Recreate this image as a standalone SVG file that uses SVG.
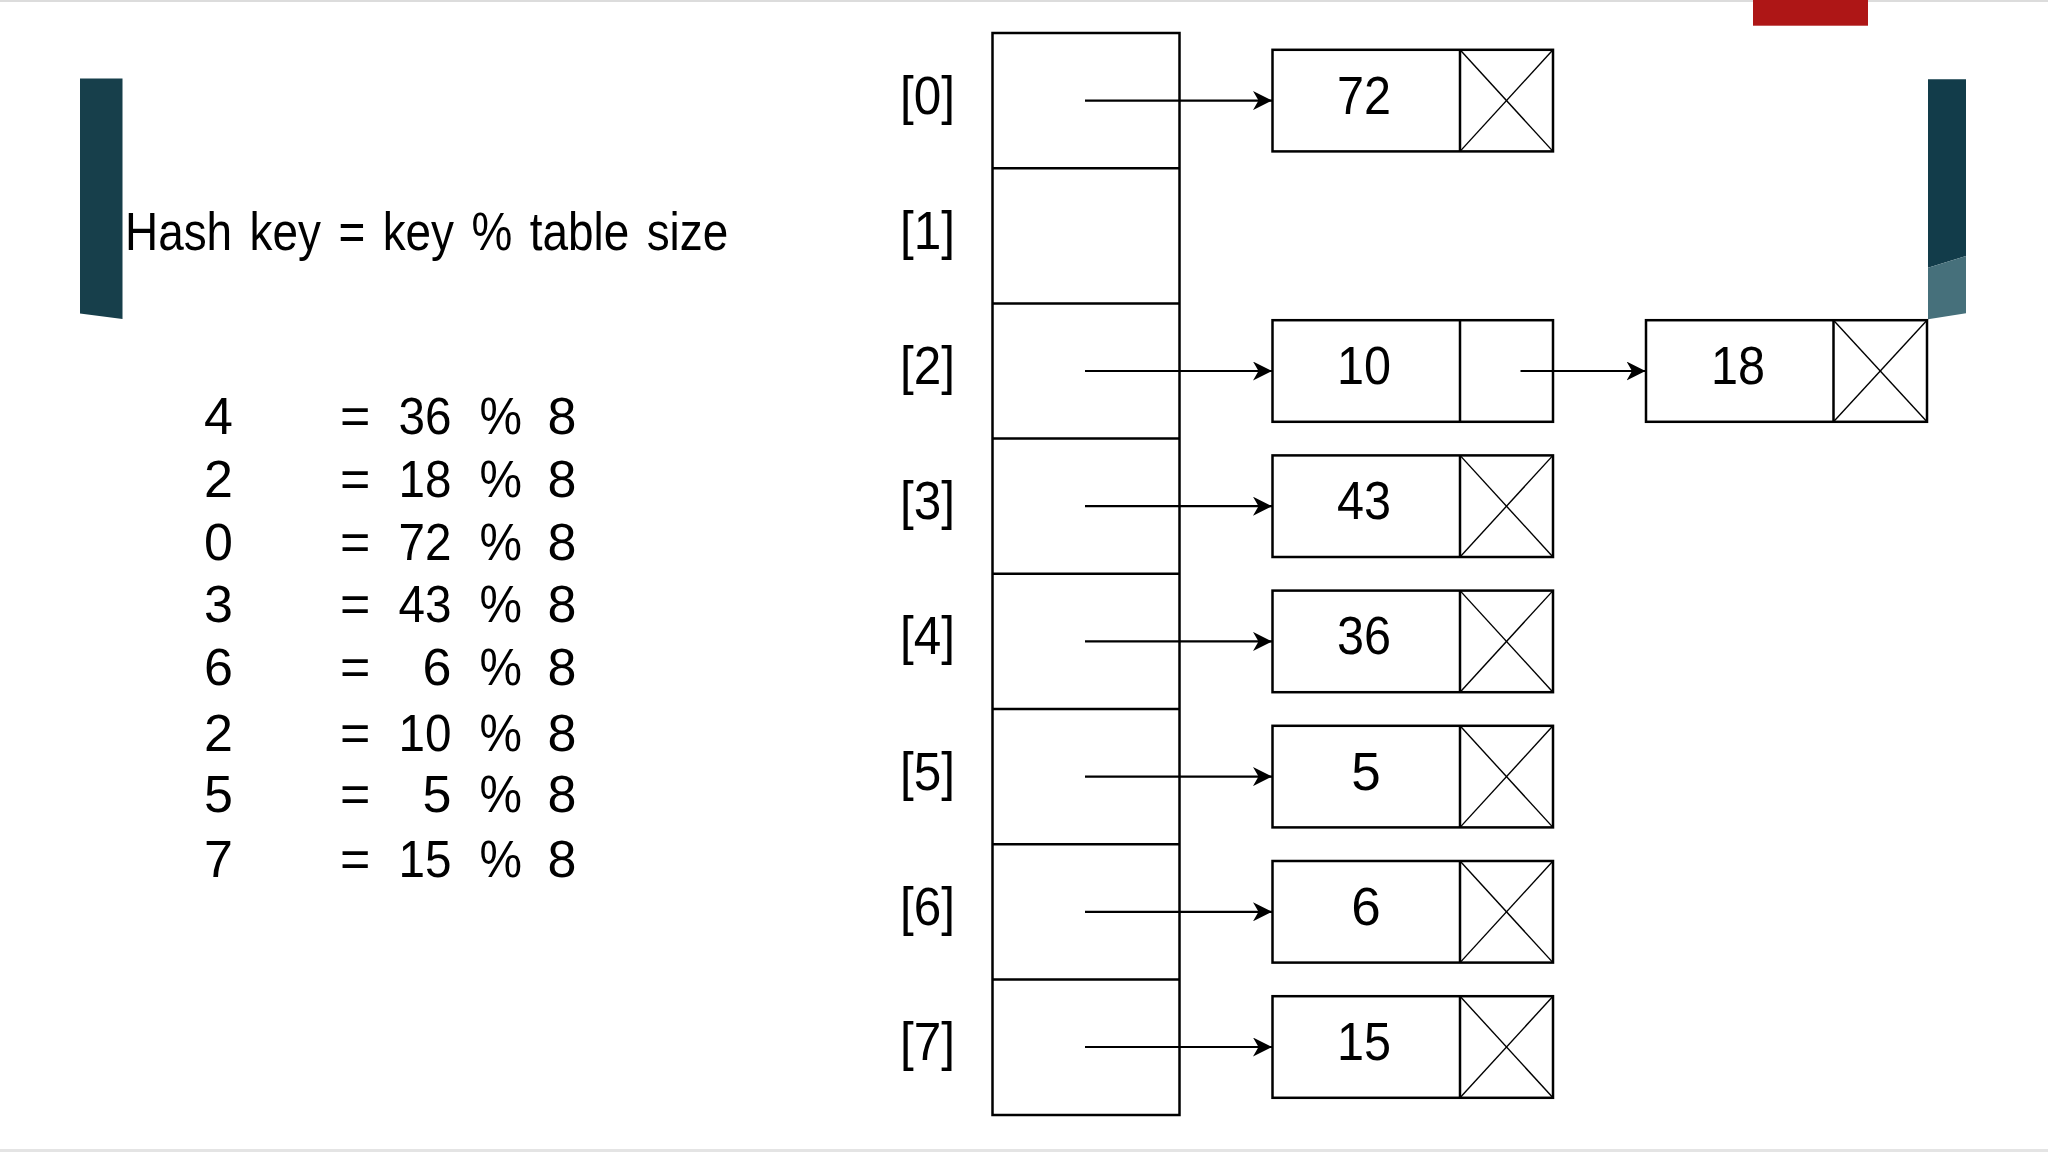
<svg xmlns="http://www.w3.org/2000/svg" width="2048" height="1152" viewBox="0 0 2048 1152">
<style>
  text { font-family: "Liberation Sans", Arial, sans-serif; fill: #000; }
  .eq { font-size: 52px; }
  .idx { font-size: 53px; }
  .val { font-size: 53px; text-anchor: middle; }
  .cell { fill: #fff; stroke: #000; stroke-width: 2.5; }
  .div { stroke: #000; stroke-width: 2.5; }
  .x { stroke: #000; stroke-width: 1.4; }
  .conn { stroke: #000; stroke-width: 2.2; fill: none; marker-end: url(#arr); }
</style>
<defs>
  <marker id="arr" markerUnits="userSpaceOnUse" markerWidth="19" markerHeight="19" viewBox="0 0 19 19" refX="19" refY="9.5" orient="auto">
    <path d="M0,0 L19,9.5 L0,19 L5.5,9.5 Z" fill="#000"/>
  </marker>
</defs>
<rect x="0" y="0" width="2048" height="1152" fill="#fff"/>
<rect x="0" y="0" width="2048" height="2" fill="#dcdcdc"/>
<rect x="0" y="1149" width="2048" height="3" fill="#e4e4e4"/>
<g id="decor">
  <rect x="1753" y="0" width="115" height="25.7" fill="#ae1616"/>
  <polygon points="80,78.4 122.5,78.4 122.5,319 80,313.5" fill="#173f4b"/>
  <polygon points="1928,79.3 1966,79.3 1966,256 1928,267.7" fill="#123c4a"/>
  <polygon points="1928,267.7 1966,256 1966,313.3 1928,319.3" fill="#46707b"/>
</g>
<g id="formula">
  <text transform="translate(125,250) scale(0.85,1)" x="0" y="0" font-size="54" word-spacing="5.5">Hash key = key % table size</text>
</g>
<g id="calc" class="eq">
  <text x="204" y="434">4</text><text x="340" y="434">=</text><text x="451.5" y="434" text-anchor="end" textLength="53" lengthAdjust="spacingAndGlyphs">36</text><text x="479.5" y="434" textLength="42.5" lengthAdjust="spacingAndGlyphs">%</text><text x="547.5" y="434">8</text>
  <text x="204" y="496.7">2</text><text x="340" y="496.7">=</text><text x="451.5" y="496.7" text-anchor="end" textLength="53" lengthAdjust="spacingAndGlyphs">18</text><text x="479.5" y="496.7" textLength="42.5" lengthAdjust="spacingAndGlyphs">%</text><text x="547.5" y="496.7">8</text>
  <text x="204" y="560">0</text><text x="340" y="560">=</text><text x="451.5" y="560" text-anchor="end" textLength="53" lengthAdjust="spacingAndGlyphs">72</text><text x="479.5" y="560" textLength="42.5" lengthAdjust="spacingAndGlyphs">%</text><text x="547.5" y="560">8</text>
  <text x="204" y="622">3</text><text x="340" y="622">=</text><text x="451.5" y="622" text-anchor="end" textLength="53" lengthAdjust="spacingAndGlyphs">43</text><text x="479.5" y="622" textLength="42.5" lengthAdjust="spacingAndGlyphs">%</text><text x="547.5" y="622">8</text>
  <text x="204" y="685">6</text><text x="340" y="685">=</text><text x="451.5" y="685" text-anchor="end">6</text><text x="479.5" y="685" textLength="42.5" lengthAdjust="spacingAndGlyphs">%</text><text x="547.5" y="685">8</text>
  <text x="204" y="750.7">2</text><text x="340" y="750.7">=</text><text x="451.5" y="750.7" text-anchor="end" textLength="53" lengthAdjust="spacingAndGlyphs">10</text><text x="479.5" y="750.7" textLength="42.5" lengthAdjust="spacingAndGlyphs">%</text><text x="547.5" y="750.7">8</text>
  <text x="204" y="811.7">5</text><text x="340" y="811.7">=</text><text x="451.5" y="811.7" text-anchor="end">5</text><text x="479.5" y="811.7" textLength="42.5" lengthAdjust="spacingAndGlyphs">%</text><text x="547.5" y="811.7">8</text>
  <text x="204" y="876.7">7</text><text x="340" y="876.7">=</text><text x="451.5" y="876.7" text-anchor="end" textLength="53" lengthAdjust="spacingAndGlyphs">15</text><text x="479.5" y="876.7" textLength="42.5" lengthAdjust="spacingAndGlyphs">%</text><text x="547.5" y="876.7">8</text>
</g>
<g id="table">
  <rect class="cell" x="992.5" y="33" width="187" height="1082"/>
  <line class="div" x1="992.5" y1="168.2" x2="1179.5" y2="168.2"/>
  <line class="div" x1="992.5" y1="303.4" x2="1179.5" y2="303.4"/>
  <line class="div" x1="992.5" y1="438.6" x2="1179.5" y2="438.6"/>
  <line class="div" x1="992.5" y1="573.8" x2="1179.5" y2="573.8"/>
  <line class="div" x1="992.5" y1="709" x2="1179.5" y2="709"/>
  <line class="div" x1="992.5" y1="844.2" x2="1179.5" y2="844.2"/>
  <line class="div" x1="992.5" y1="979.4" x2="1179.5" y2="979.4"/>
</g>
<g id="labels" class="idx">
  <text x="900" y="113.6" textLength="55" lengthAdjust="spacingAndGlyphs">[0]</text>
  <text x="900" y="248.8" textLength="55" lengthAdjust="spacingAndGlyphs">[1]</text>
  <text x="900" y="384" textLength="55" lengthAdjust="spacingAndGlyphs">[2]</text>
  <text x="900" y="519.2" textLength="55" lengthAdjust="spacingAndGlyphs">[3]</text>
  <text x="900" y="654.4" textLength="55" lengthAdjust="spacingAndGlyphs">[4]</text>
  <text x="900" y="789.6" textLength="55" lengthAdjust="spacingAndGlyphs">[5]</text>
  <text x="900" y="924.8" textLength="55" lengthAdjust="spacingAndGlyphs">[6]</text>
  <text x="900" y="1060" textLength="55" lengthAdjust="spacingAndGlyphs">[7]</text>
</g>
<g id="node-72">
  <rect class="cell" x="1272.5" y="49.8" width="280.5" height="101.6"/>
  <line class="div" x1="1460" y1="49.8" x2="1460" y2="151.4"/>
  <line class="x" x1="1460" y1="49.8" x2="1553" y2="151.4"/><line class="x" x1="1553" y1="49.8" x2="1460" y2="151.4"/>
  <text class="val" x="1364" y="113.6" textLength="54" lengthAdjust="spacingAndGlyphs">72</text>
</g>
<g id="node-10">
  <rect class="cell" x="1272.5" y="320.2" width="280.5" height="101.6"/>
  <line class="div" x1="1460" y1="320.2" x2="1460" y2="421.8"/>
  <text class="val" x="1364" y="384" textLength="54" lengthAdjust="spacingAndGlyphs">10</text>
</g>
<g id="node-18">
  <rect class="cell" x="1646" y="320.2" width="281" height="101.6"/>
  <line class="div" x1="1833.5" y1="320.2" x2="1833.5" y2="421.8"/>
  <line class="x" x1="1833.5" y1="320.2" x2="1927" y2="421.8"/><line class="x" x1="1927" y1="320.2" x2="1833.5" y2="421.8"/>
  <text class="val" x="1738" y="384" textLength="54" lengthAdjust="spacingAndGlyphs">18</text>
</g>
<g id="node-43">
  <rect class="cell" x="1272.5" y="455.4" width="280.5" height="101.6"/>
  <line class="div" x1="1460" y1="455.4" x2="1460" y2="557"/>
  <line class="x" x1="1460" y1="455.4" x2="1553" y2="557"/><line class="x" x1="1553" y1="455.4" x2="1460" y2="557"/>
  <text class="val" x="1364" y="519.2" textLength="54" lengthAdjust="spacingAndGlyphs">43</text>
</g>
<g id="node-36">
  <rect class="cell" x="1272.5" y="590.6" width="280.5" height="101.6"/>
  <line class="div" x1="1460" y1="590.6" x2="1460" y2="692.2"/>
  <line class="x" x1="1460" y1="590.6" x2="1553" y2="692.2"/><line class="x" x1="1553" y1="590.6" x2="1460" y2="692.2"/>
  <text class="val" x="1364" y="654.4" textLength="54" lengthAdjust="spacingAndGlyphs">36</text>
</g>
<g id="node-5">
  <rect class="cell" x="1272.5" y="725.8" width="280.5" height="101.6"/>
  <line class="div" x1="1460" y1="725.8" x2="1460" y2="827.4"/>
  <line class="x" x1="1460" y1="725.8" x2="1553" y2="827.4"/><line class="x" x1="1553" y1="725.8" x2="1460" y2="827.4"/>
  <text class="val" x="1366" y="789.6">5</text>
</g>
<g id="node-6">
  <rect class="cell" x="1272.5" y="861" width="280.5" height="101.6"/>
  <line class="div" x1="1460" y1="861" x2="1460" y2="962.6"/>
  <line class="x" x1="1460" y1="861" x2="1553" y2="962.6"/><line class="x" x1="1553" y1="861" x2="1460" y2="962.6"/>
  <text class="val" x="1366" y="924.8">6</text>
</g>
<g id="node-15">
  <rect class="cell" x="1272.5" y="996.2" width="280.5" height="101.6"/>
  <line class="div" x1="1460" y1="996.2" x2="1460" y2="1097.8"/>
  <line class="x" x1="1460" y1="996.2" x2="1553" y2="1097.8"/><line class="x" x1="1553" y1="996.2" x2="1460" y2="1097.8"/>
  <text class="val" x="1364" y="1060" textLength="54" lengthAdjust="spacingAndGlyphs">15</text>
</g>
<g id="connectors">
  <line class="conn" x1="1085" y1="100.6" x2="1272" y2="100.6"/>
  <line class="conn" x1="1085" y1="371" x2="1272" y2="371"/>
  <line class="conn" x1="1520.5" y1="371" x2="1645.5" y2="371"/>
  <line class="conn" x1="1085" y1="506.2" x2="1272" y2="506.2"/>
  <line class="conn" x1="1085" y1="641.4" x2="1272" y2="641.4"/>
  <line class="conn" x1="1085" y1="776.6" x2="1272" y2="776.6"/>
  <line class="conn" x1="1085" y1="911.8" x2="1272" y2="911.8"/>
  <line class="conn" x1="1085" y1="1047" x2="1272" y2="1047"/>
</g>
</svg>
